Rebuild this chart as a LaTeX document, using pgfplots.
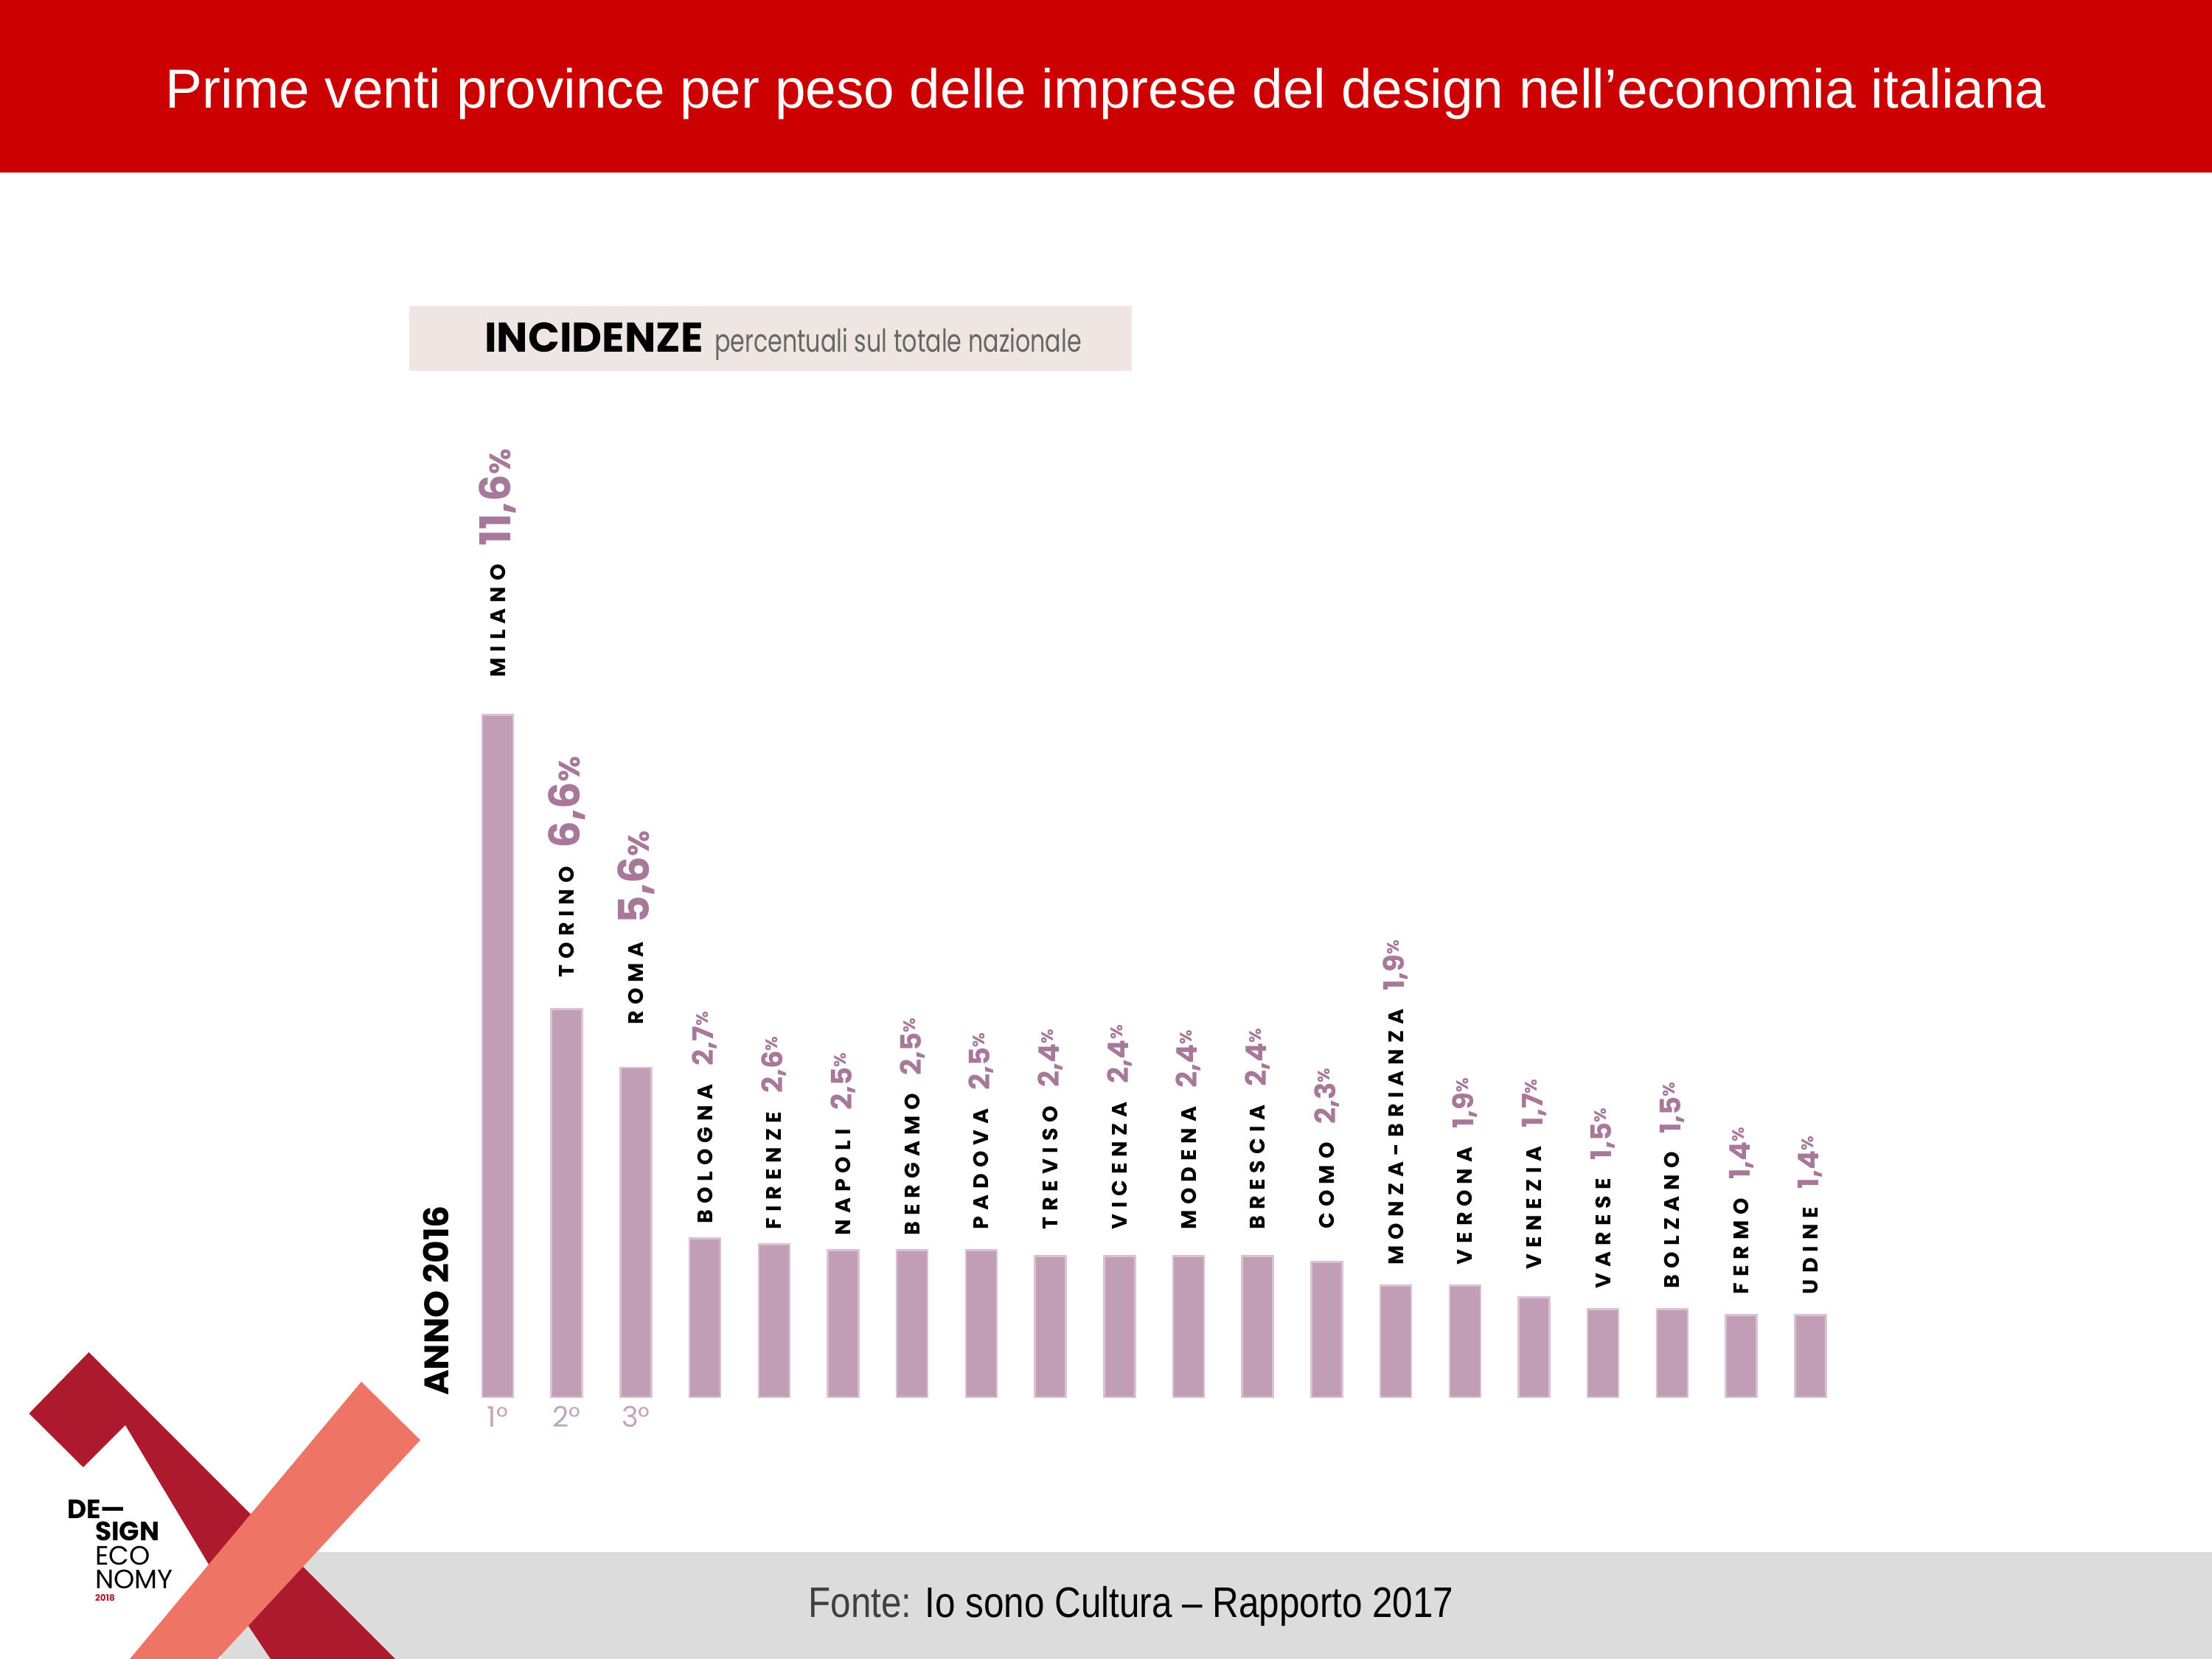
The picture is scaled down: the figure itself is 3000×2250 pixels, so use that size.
\documentclass[border=0pt]{standalone}
\usepackage{pgfplots}
\pgfplotsset{compat=1.18}
\usepackage{fontspec}
\usepackage{graphicx}
\setmainfont{Liberation Sans}
\newfontfamily\arial{Liberation Sans}
\newfontfamily\pop{Poppins}
\newfontfamily\cityfont[LetterSpace=28]{Poppins}

\definecolor{headred}{HTML}{CC0000}
\definecolor{barfill}{HTML}{C29DB6}
\definecolor{baredge}{HTML}{D9C2D1}
\definecolor{valcol}{HTML}{A8789A}
\definecolor{ordcol}{HTML}{C4A6BC}
\definecolor{boxbg}{HTML}{EFE6E3}
\definecolor{footgray}{HTML}{DCDCDC}
\definecolor{logored}{HTML}{AE1A2D}
\definecolor{logosalmon}{HTML}{EE7465}

% label pieces: gap above bar, city name, value
\newcommand\cn[1]{\cityfont\bfseries\fontsize{5.7}{6}\selectfont #1}
\newcommand\bv[1]{\color{valcol}\pop\bfseries\fontsize{11.5}{12}\selectfont #1{\fontsize{8}{8}\selectfont\%}}
\newcommand\sv[1]{\color{valcol}\pop\bfseries\fontsize{7.7}{8}\selectfont #1\raisebox{1.5pt}{\fontsize{4.5}{5}\selectfont\%}}
\newcommand\lbl[3]{\hspace*{#1}$\vcenter{\hbox{\cn{#2}}}$\hspace{5pt}$\vcenter{\hbox{#3}}$}

\begin{document}
\begin{tikzpicture}[x=0.2pt,y=0.2pt]
\path[use as bounding box] (0,0) rectangle (3000,2250);
\fill[white] (0,0) rectangle (3000,2250);

% header
\fill[headred] (0,2016) rectangle (3000,2250);
\node[text=white, inner sep=0pt] at (1500,2123)
  {\resizebox{510pt}{!}{\arial\fontsize{16.5}{18}\selectfont Prime venti province per peso delle imprese del design nell’economia italiana}};

% subtitle box
\fill[boxbg] (555,1747) rectangle (1535,1835);
\node[anchor=base west, inner sep=0pt] at (656,1772) {\resizebox{59.4pt}{8pt}{\pop\bfseries INCIDENZE}};
\node[anchor=base west, inner sep=0pt, text=black!60] at (968,1772) {\resizebox{99.6pt}{6.5pt}{\pop percentuali sul totale nazionale}};

% year
\node[rotate=90, anchor=base west, inner sep=0pt] at (608,356) {\resizebox{51.6pt}{6.9pt}{\pop\bfseries ANNO 2016}};

% footer
\fill[footgray] (300,0) rectangle (3000,145);
\node[anchor=base, inner sep=0pt] at (1534,56)
  {\resizebox{175pt}{8.4pt}{\arial\fontsize{11.7}{13}\selectfont\textcolor{black!75}{Fonte:} Io sono Cultura – Rapporto 2017}};

% logo
\fill[logored] (120.5,416) -- (536,0) -- (367,0) -- (300,100) -- (170,317) -- (113,260) -- (39.4,333) -- cycle;
\fill[logosalmon] (490,376) -- (570,297) -- (295,0) -- (176,0) -- cycle;
\node[anchor=base west, inner sep=0pt] at (90,190) {\pop\bfseries\fontsize{7.2}{8}\selectfont DE—};
\node[anchor=base west, inner sep=0pt] at (128,160) {\pop\bfseries\fontsize{7.2}{8}\selectfont SIGN};
\node[anchor=base west, inner sep=0pt] at (128,127) {\pop\fontsize{7.2}{8}\selectfont ECO};
\node[anchor=base west, inner sep=0pt] at (128,95) {\pop\fontsize{7.2}{8}\selectfont NOMY};
\node[anchor=base west, inner sep=0pt, text=logored] at (128,78) {\pop\bfseries\fontsize{2.4}{3}\selectfont 2018};

\begin{axis}[
  at={(125.62pt,71pt)}, anchor=south west,
  scale only axis, width=374.8pt, height=223.4pt,
  xmin=-0.5, xmax=19.5, ymin=0, ymax=14,
  ybar, bar width=8.4pt,
  hide y axis, axis x line*=bottom, x axis line style={draw=none},
  xtick={0,1,2}, xticklabels={\mbox{1°},\mbox{2°},\mbox{3°}},
  xtick style={draw=none},
  xticklabel style={font=\pop\fontsize{7.7}{8}\selectfont, text=ordcol, inner sep=0pt, yshift=2pt},
  nodes near coords, point meta=explicit symbolic,
  every node near coord/.append style={rotate=90, anchor=west, inner sep=0pt},
  clip=false,
]
\addplot[fill=barfill, draw=baredge, line width=0.5pt] coordinates {
  (0,11.6) [\lbl{10pt}{MILANO}{\bv{11,6}}]
  (1,6.6) [\lbl{8.4pt}{TORINO}{\bv{6,6}}]
  (2,5.6) [\lbl{11.5pt}{ROMA}{\bv{5,6}}]
  (3,2.7) [\lbl{3.8pt}{BOLOGNA}{\sv{2,7}}]
  (4,2.6) [\lbl{3.8pt}{FIRENZE}{\sv{2,6}}]
  (5,2.5) [\lbl{3.8pt}{NAPOLI}{\sv{2,5}}]
  (6,2.5) [\lbl{3.8pt}{BERGAMO}{\sv{2,5}}]
  (7,2.5) [\lbl{5.4pt}{PADOVA}{\sv{2,5}}]
  (8,2.4) [\lbl{6.9pt}{TREVISO}{\sv{2,4}}]
  (9,2.4) [\lbl{6.9pt}{VICENZA}{\sv{2,4}}]
  (10,2.4) [\lbl{6.9pt}{MODENA}{\sv{2,4}}]
  (11,2.4) [\lbl{6.9pt}{BRESCIA}{\sv{2,4}}]
  (12,2.3) [\lbl{8.8pt}{COMO}{\sv{2,3}}]
  (13,1.9) [\lbl{5.4pt}{MONZA-BRIANZA}{\sv{1,9}}]
  (14,1.9) [\lbl{5.4pt}{VERONA}{\sv{1,9}}]
  (15,1.7) [\lbl{7.3pt}{VENEZIA}{\sv{1,7}}]
  (16,1.5) [\lbl{5.4pt}{VARESE}{\sv{1,5}}]
  (17,1.5) [\lbl{5.4pt}{BOLZANO}{\sv{1,5}}]
  (18,1.4) [\lbl{5.4pt}{FERMO}{\sv{1,4}}]
  (19,1.4) [\lbl{5.4pt}{UDINE}{\sv{1,4}}]
};
\end{axis}
\end{tikzpicture}
\end{document}
